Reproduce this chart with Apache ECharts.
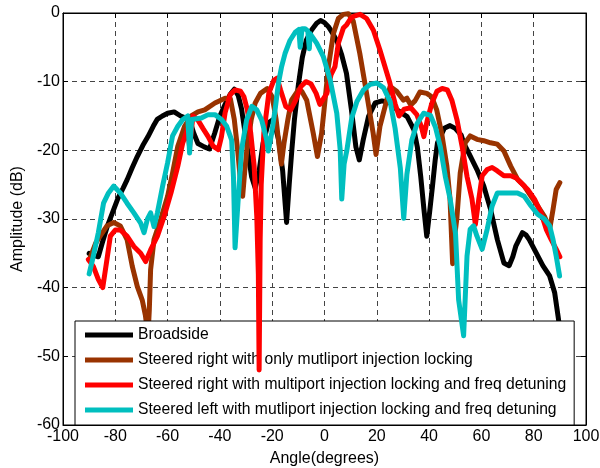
<!DOCTYPE html>
<html>
<head>
<meta charset="utf-8">
<script src="https://cdn.jsdelivr.net/npm/echarts@6/dist/echarts.min.js"></script>
<style>
  html, body { margin: 0; padding: 0; background: #fff; }
  #chart { width: 600px; height: 468px; }
</style>
</head>
<body>
<div id="chart"></div>
<script>
// Measured array patterns: angle (degrees) and amplitude (dB) for each case
const seriesNames = [
  'Broadside',
  'Steered right with only mutliport injection locking',
  'Steered right with multiport injection locking and freq detuning',
  'Steered left with mutliport injection locking and freq detuning'
];

const broadsideAngle = [-90, -88, -86.5, -85, -83, -81, -79, -77, -75.5, -73.5, -71.6, -69.5, -67.5, -65.5, -64, -62, -60, -57.5, -55, -53, -51, -50, -48.4, -46, -44, -42, -40, -38, -36, -34.5, -33, -31.7, -29.8, -27.9, -26.5, -25, -23.5, -21.5, -19.5, -17.5, -16, -15, -14.5, -13.5, -12.5, -11.5, -10, -8.5, -7, -5, -3, -1.5, 0, 1.5, 3.2, 5, 6.5, 8.4, 10.3, 12, 13.3, 14.8, 16.8, 19.4, 22, 25.2, 27.7, 31.6, 34.2, 35.5, 36.8, 38, 39.1, 40.2, 41.3, 42.3, 43.2, 45.8, 48, 50, 52.3, 53.2, 55.7, 58.3, 60.9, 63.5, 66.1, 68.6, 70.6, 72, 73.2, 75.7, 77, 78.3, 80.9, 83.5, 86.1, 88, 89.3, 90];
const broadsideDb = [-35, -35.3, -35.5, -33.5, -31, -29, -27, -25.5, -24.3, -22.5, -20.9, -19.3, -18, -16.5, -15.5, -15, -14.6, -14.4, -15, -15.3, -16.3, -17.5, -19, -19.5, -19.8, -17.5, -15, -13.3, -11.8, -11.1, -12, -14, -19, -23.8, -25.5, -23, -19, -16, -15.5, -18.5, -23, -28, -30.5, -25, -20, -15.5, -10.5, -6.5, -4, -2.5, -1.5, -1.1, -1.4, -2, -3, -4.3, -6, -8.8, -14.1, -19.5, -21.4, -18.5, -15.1, -13.1, -12.8, -13.1, -14.1, -15.1, -17, -19.5, -23.8, -28.5, -32.5, -29, -25.2, -21.5, -18.9, -16.8, -16.4, -16.8, -17.8, -18.9, -20.8, -22.8, -25.2, -28.6, -33, -36.4, -36.8, -35.5, -33.9, -32, -32.3, -33, -34.9, -36.8, -38.3, -40.7, -44.1, -46];

const steeredRightAngle = [-90, -89, -87.5, -85.8, -83.2, -80.6, -78.1, -75.5, -73.5, -71.6, -69.7, -68.5, -67.5, -67, -66.5, -65.2, -62.6, -60, -58.1, -56.1, -53.5, -51, -48.4, -45.8, -41.9, -38, -36, -34.5, -33.2, -32, -31.3, -30.5, -29.7, -28, -26.5, -24.5, -21.9, -20, -18.5, -17.3, -16.5, -15.5, -14, -12.6, -10, -8.7, -6.8, -4.3, -2.7, -1.1, 0.2, 1.5, 3.4, 5.3, 7.2, 9.1, 11, 13.5, 16.1, 18.6, 19.7, 21.2, 23.8, 25.1, 27.6, 30.2, 31.5, 33, 34.6, 36.5, 39.1, 41, 42.9, 44.8, 46.8, 48, 49, 49.6, 50.6, 51.9, 53.8, 55.7, 58.3, 60.9, 63.5, 66.1, 68.6, 71.2, 73.8, 76.4, 79, 81.5, 84.1, 86.1, 87.4, 88.6, 90];
const steeredRightDb = [-36, -35, -33.5, -32.5, -31, -30.5, -31, -33, -36.9, -39.8, -41.8, -44, -47, -43.3, -37.4, -33, -30, -26.7, -23.3, -19.4, -16.5, -15, -14.4, -14.1, -13.1, -12.4, -12.5, -15.5, -20, -25, -26.7, -23, -19.9, -15.5, -13.1, -11.7, -11, -12.2, -15.5, -19.5, -22, -19, -15.5, -12.7, -11.2, -11.4, -12.7, -17.5, -20.9, -17.5, -12.7, -7.8, -3, -0.8, -0.2, -0.1, -1.2, -5.9, -11.7, -17.5, -20.6, -16.5, -12.7, -10.7, -11.4, -12.7, -12.4, -13.4, -12.8, -11.5, -11.7, -12.2, -14.1, -17.5, -22.3, -27.1, -36.5, -33, -30, -23.3, -18.9, -17.9, -18.4, -18.6, -18.9, -19.1, -20.1, -22.3, -24.2, -25.2, -26.7, -28.1, -29.6, -31.5, -28.6, -25.7, -24.7];

const detunedRightAngle = [-90.3, -88.4, -86.5, -84.8, -83.2, -81.9, -80, -78.1, -75.5, -72.9, -70.3, -68.4, -66.5, -63.9, -61.3, -58.7, -56.1, -54.2, -52.3, -51.6, -50.3, -48.4, -46.5, -44.5, -42.6, -40.6, -39.4, -38, -36.1, -34.2, -32.1, -30.8, -29.5, -28.2, -26.9, -25.9, -25.3, -25, -24.6, -24.2, -23.2, -21.3, -19.4, -18.1, -16.8, -14.8, -12.9, -11, -9, -7.1, -5.2, -3.2, -1.8, 0.9, 2.5, 4, 5.3, 7.2, 8.5, 10, 11, 13.6, 16.1, 18.7, 21.2, 23.1, 25, 27, 28.5, 30.5, 33, 35.3, 37, 38, 39.2, 41, 43, 45, 47, 48.7, 50.7, 52.6, 54.5, 56.4, 57.7, 59, 60.3, 62.2, 64.1, 66.1, 68.6, 71.2, 73.2, 75.1, 77.7, 80.3, 82.8, 84.8, 86.7, 88.6, 90];
const detunedRightDb = [-35.9, -36.9, -38.8, -40, -35.9, -32.5, -31.6, -31.6, -32.5, -34, -35, -36.2, -34.5, -32.5, -29.6, -26.2, -22.3, -18.9, -16.9, -19.5, -15, -15.6, -16.8, -18, -19.4, -19.9, -18, -14.5, -11.9, -11.2, -11.4, -12.2, -14.1, -17.5, -22.3, -29.6, -38, -52, -33, -25, -17.5, -11.7, -9.8, -9.5, -11.2, -13.6, -14.1, -12.7, -10.7, -10, -10.3, -11.7, -13.3, -11.7, -9, -7.8, -4.4, -2.2, -1.7, -0.8, -0.5, -0.2, -0.8, -2.5, -5.4, -7.8, -10.2, -13.2, -15, -14, -13.8, -14.8, -16.5, -18, -15.8, -13.2, -11.4, -11, -11.2, -12.7, -15.6, -19.4, -23.8, -27.1, -30.8, -27.1, -23.7, -22.8, -22.5, -23, -23.7, -23.7, -24, -24.7, -25.7, -27.1, -29.1, -31.5, -33, -34.4, -35.5];

const steeredLeftAngle = [-90, -88.4, -86.5, -84.5, -82.6, -80.6, -78.1, -75.5, -72.9, -70.3, -69, -67.7, -66.5, -65.2, -63.9, -61.9, -60, -58.1, -56.1, -54.2, -52.3, -51.6, -50.8, -47.1, -44.5, -41.9, -39.4, -37.4, -35.5, -34.8, -34.2, -33, -31.7, -29.8, -27.8, -25.9, -24, -22.1, -21.5, -20.2, -18.9, -17.6, -16.4, -15.1, -13.2, -11.2, -9.8, -9.3, -8.6, -7.4, -6.4, -5.8, -5.5, -3, -0.4, 2.2, 4.7, 6, 6.6, 7.5, 8.5, 10.4, 12.4, 14.9, 17.5, 20, 22.6, 25.1, 27, 29, 30.3, 31.5, 33.4, 35.4, 37.9, 40.5, 42.4, 44.3, 46.2, 48.1, 50.1, 51.3, 53.2, 54.5, 55.7, 57, 58.3, 60.3, 62.2, 64.1, 66.1, 68.6, 71.2, 73.8, 76.4, 79, 81.5, 84.1, 86.1, 87.4, 88.6, 89.9];
const steeredLeftDb = [-38, -35.4, -32, -27.7, -26.2, -25.2, -26.2, -27.7, -29.1, -30.6, -32, -30, -29.1, -31.1, -29.1, -25.2, -21.8, -17.9, -16.5, -15.5, -15, -20.4, -15.5, -15.3, -14.8, -14.8, -15.5, -16.5, -18.5, -24, -34.2, -27.1, -19.9, -15.6, -13.6, -14.1, -15.6, -18.5, -20.1, -17.5, -14.1, -10.2, -7.8, -5.9, -4, -2.8, -2.4, -5, -2.3, -2.3, -2.6, -5.2, -3, -4.4, -6.4, -9.8, -14.6, -19.9, -27.1, -22, -20.1, -15.3, -12.9, -11.2, -10.4, -10.2, -10.9, -12.9, -16.8, -22.6, -29.9, -23.5, -18.5, -16.1, -14.6, -14.9, -16.6, -19.5, -23.8, -27.2, -32.1, -41.8, -47, -35.4, -31.5, -31, -32.5, -34.4, -31.5, -28.1, -26.2, -26.2, -26.2, -26.2, -26.7, -28.1, -29.3, -30, -31, -33, -35.4, -38.3];

const xTicks = [-100, 100, 20];   // min, max, step
const yTicks = [-60, 0, 10];      // min, max, step

const lineColors = ['#000000', '#993300', '#ff0000', '#00bfbf'];

function pairs(xs, ys) {
  return xs.map((x, i) => [x, ys[i]]);
}

const curves = [
  pairs(broadsideAngle, broadsideDb),
  pairs(steeredRightAngle, steeredRightDb),
  pairs(detunedRightAngle, detunedRightDb),
  pairs(steeredLeftAngle, steeredLeftDb)
];

const font = 'Liberation Sans, Arial, sans-serif';
const gridDash = { color: '#444', width: 1, type: [5, 4] };

const chart = echarts.init(document.getElementById('chart'), null, { renderer: 'canvas' });

chart.setOption({
  animation: false,
  backgroundColor: '#ffffff',
  grid: {
    left: 63, right: 14, top: 13, bottom: 43,
    outerBoundsMode: 'none', containLabel: false,
    show: true, borderColor: '#000', borderWidth: 1, backgroundColor: 'transparent'
  },
  xAxis: [
    {
      type: 'value', min: xTicks[0], max: xTicks[1], interval: xTicks[2],
      name: 'Angle(degrees)', nameLocation: 'middle', nameGap: 26,
      nameTextStyle: { fontFamily: font, fontSize: 16, color: '#000' },
      axisLine: { show: true, onZero: false, lineStyle: { color: '#000' } },
      axisTick: { show: true, inside: true, length: 5, lineStyle: { color: '#000' } },
      axisLabel: { fontFamily: font, fontSize: 16, color: '#000', margin: 4 },
      splitLine: { show: true, lineStyle: gridDash }
    },
    {
      type: 'value', position: 'top', min: xTicks[0], max: xTicks[1], interval: xTicks[2],
      axisLine: { show: true, onZero: false, lineStyle: { color: '#000' } },
      axisTick: { show: true, inside: true, length: 5, lineStyle: { color: '#000' } },
      axisLabel: { show: false }, splitLine: { show: false }
    }
  ],
  yAxis: [
    {
      type: 'value', min: yTicks[0], max: yTicks[1], interval: yTicks[2],
      name: 'Amplitude (dB)', nameLocation: 'middle', nameGap: 35,
      nameTextStyle: { fontFamily: font, fontSize: 16, color: '#000' },
      axisLine: { show: true, onZero: false, lineStyle: { color: '#000' } },
      axisTick: { show: true, inside: true, length: 5, lineStyle: { color: '#000' } },
      axisLabel: { fontFamily: font, fontSize: 16, color: '#000', margin: 3 },
      splitLine: { show: true, lineStyle: gridDash }
    },
    {
      type: 'value', position: 'right', min: yTicks[0], max: yTicks[1], interval: yTicks[2],
      axisLine: { show: true, onZero: false, lineStyle: { color: '#000' } },
      axisTick: { show: true, inside: true, length: 5, lineStyle: { color: '#000' } },
      axisLabel: { show: false }, splitLine: { show: false }
    }
  ],
  legend: {
    orient: 'vertical', left: 75, top: 321,
    padding: [6, 8, 7, 10],
    icon: 'rect', itemWidth: 48, itemHeight: 5, itemGap: 9,
    backgroundColor: '#fff', borderColor: '#000', borderWidth: 1,
    selectedMode: false,
    textStyle: { fontFamily: font, fontSize: 15.7, color: '#000', lineHeight: 14 },
    data: seriesNames
  },
  series: curves.map((data, i) => ({
    name: seriesNames[i],
    type: 'line',
    data: data,
    showSymbol: false,
    symbol: 'none',
    clip: true,
    z: 2 + i,
    itemStyle: { color: lineColors[i] },
    lineStyle: { color: lineColors[i], width: 5, cap: 'round', join: 'round' }
  }))
});
</script>
</body>
</html>
